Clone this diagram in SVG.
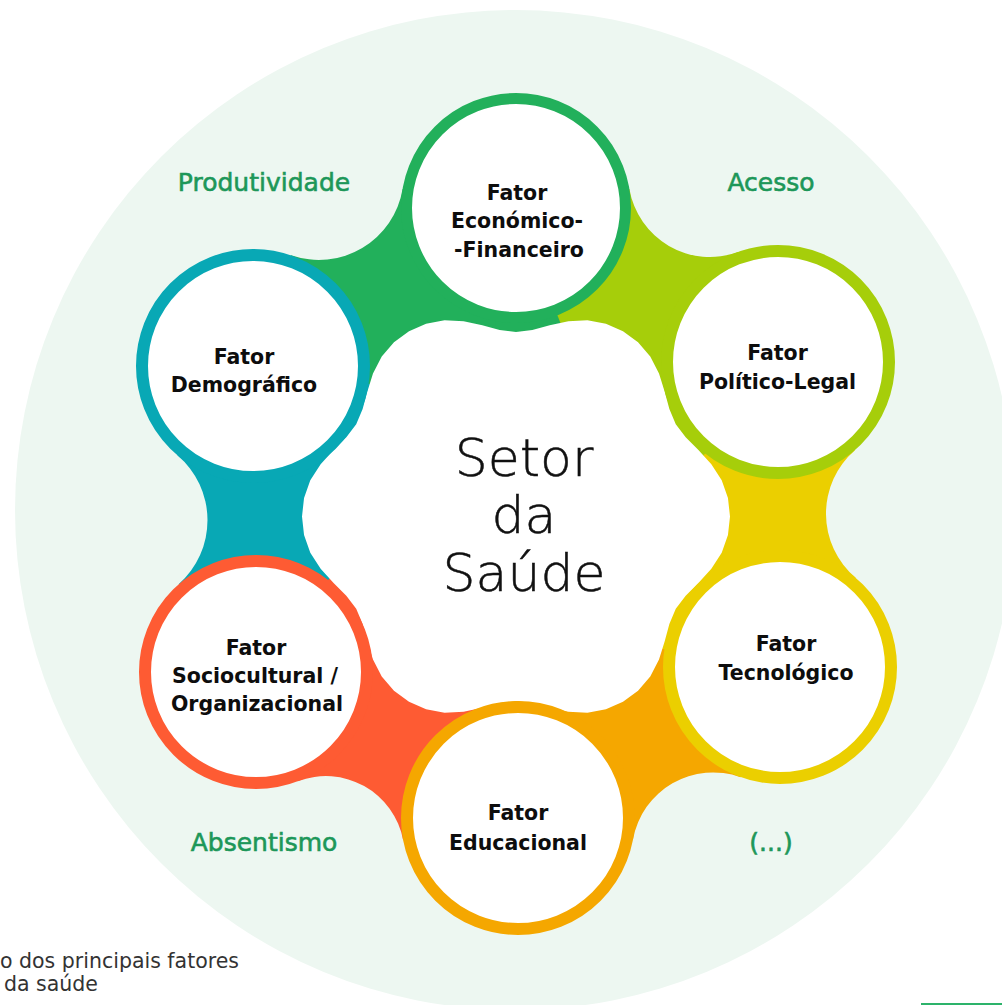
<svg xmlns="http://www.w3.org/2000/svg" width="1002" height="1005" viewBox="0 0 1002 1005">
  <defs>
    <style>
      .lbl{font-family:"DejaVu Sans","Liberation Sans",sans-serif;font-weight:700;font-size:20.5px;fill:#0d0d0d;text-anchor:middle}
      .aspect{font-family:"DejaVu Sans","Liberation Sans",sans-serif;font-size:25px;fill:#1d9759;stroke:#1d9759;stroke-width:0.6;text-anchor:middle}
      .core{font-family:"DejaVu Sans","Liberation Sans",sans-serif;font-weight:200;font-size:52px;fill:#111;stroke:#111;stroke-width:0.5;text-anchor:middle}
      .cap{font-family:"DejaVu Sans","Liberation Sans",sans-serif;font-size:20.5px;fill:#333}
      .node{fill:#fff;stroke-width:12}
      .c-eco{fill:#22b05b;stroke:#22b05b}
      .c-pol{fill:#a6ce0a;stroke:#a6ce0a}
      .c-tec{fill:#ebcf00;stroke:#ebcf00}
      .c-edu{fill:#f5a700;stroke:#f5a700}
      .c-soc{fill:#fe5b33;stroke:#fe5b33}
      .c-dem{fill:#08a8b5;stroke:#08a8b5}
      .fill-only{stroke:none}
    </style>
  </defs>

  <!-- light backdrop disc -->
  <circle cx="515" cy="510" r="500" fill="#edf7f1"/>

  <!-- connectors between neighbouring nodes (each in the colour of its clockwise node) -->
  <g id="connectors" class="fill-only">
    <path class="c-eco fill-only" d="M253,366 L291.1,255.3 A85,85 0 0 0 402.6,189 L516,208 L516,516.5 Z"/>
    <path class="c-pol fill-only" d="M516,208 L629.4,188.9 A81.8,81.8 0 0 0 738,252.1 L778,362 L516,516.5 Z"/>
    <path class="c-tec fill-only" d="M778,362 L854.9,450.2 A84.1,84.1 0 0 0 855.7,577.8 L780,667 L516,516.5 Z"/>
    <path class="c-edu fill-only" d="M780,667 L740.5,777.2 A81.3,81.3 0 0 0 633.1,839.1 L518,818 L516,516.5 Z"/>
    <path class="c-soc fill-only" d="M518,818 L403.1,840 A78.6,78.6 0 0 0 297.8,781.3 L256,672 L516,516.5 Z"/>
    <path class="c-dem fill-only" d="M256,672 L178.6,584.2 A85.2,85.2 0 0 0 177.4,455.3 L253,366 L516,516.5 Z"/>
    <!-- each node keeps its own colour on the inner side, just past its centre line -->
    <path class="c-eco fill-only" d="M516,208 L575.1,361 A165,165 0 0 1 487.3,369.5 Z"/>
    <path class="c-pol fill-only" d="M778,362 L675.3,491.1 A165,165 0 0 1 623.5,419.8 Z"/>
    <path class="c-tec fill-only" d="M780,667 L616.9,642 A165,165 0 0 1 653,561.6 Z"/>
    <path class="c-edu fill-only" d="M518,818 L457.8,664.4 A165,165 0 0 1 545.5,655.3 Z"/>
    <path class="c-soc fill-only" d="M256,672 L357.9,542.2 A165,165 0 0 1 410.1,613.1 Z"/>
    <path class="c-dem fill-only" d="M253,366 L416.1,391.2 A165,165 0 0 1 379.8,471.6 Z"/>
  </g>

  <!-- white core: six-lobed flower -->
  <polygon id="core-shape" fill="#fff" points="730,516.5 727.96,535.04 721.71,552.77 711.36,568.85 698.42,582.9 685.69,595.63 675.78,608.75 669.37,623.89 664.71,641.28 659.01,659.51 650.27,676.51 638.04,690.79 623,701.83 605.92,709.34 587.44,712.78 568.35,711.86 549.71,707.68 532.32,703.02 516,701 499.68,703.02 482.29,707.68 463.65,711.86 444.56,712.78 426.08,709.34 409,701.83 393.96,690.79 381.73,676.51 372.99,659.51 367.29,641.28 362.63,623.89 356.22,608.75 346.31,595.63 333.58,582.9 320.64,568.85 310.29,552.77 304.04,535.04 302,516.5 304.04,497.96 310.29,480.23 320.64,464.15 333.58,450.1 346.31,437.37 356.22,424.25 362.63,409.11 367.29,391.72 372.99,373.49 381.73,356.49 393.96,342.21 409,331.17 426.08,323.66 444.56,320.22 463.65,321.14 482.29,325.32 499.68,329.98 516,332 532.32,329.98 549.71,325.32 568.35,321.14 587.44,320.22 605.92,323.66 623,331.17 638.04,342.21 650.27,356.49 659.01,373.49 664.71,391.72 669.37,409.11 675.78,424.25 685.69,437.37 698.42,450.1 711.36,464.15 721.71,480.23 727.96,497.96"/>

  <!-- nodes -->
  <g id="node-economico">
    <circle class="node c-eco" style="fill:#fff;stroke-width:11" cx="516" cy="208" r="109.5"/>
    <text class="lbl" x="517" y="199.5">Fator</text>
    <text class="lbl" x="517" y="228">Económico-</text>
    <text class="lbl" x="519" y="256.5">-Financeiro</text>
  </g>
  <g id="node-politico">
    <circle class="node c-pol" style="fill:#fff" cx="778" cy="362" r="111"/>
    <text class="lbl" x="777.5" y="360">Fator</text>
    <text class="lbl" x="777.5" y="388.5">Político-Legal</text>
  </g>
  <g id="node-tecnologico">
    <circle class="node c-tec" style="fill:#fff" cx="780" cy="667" r="111"/>
    <text class="lbl" x="786" y="651">Fator</text>
    <text class="lbl" x="786" y="679.5">Tecnológico</text>
  </g>
  <g id="node-educacional">
    <circle class="node c-edu" style="fill:#fff" cx="518" cy="818" r="111"/>
    <text class="lbl" x="518" y="820">Fator</text>
    <text class="lbl" x="518" y="850">Educacional</text>
  </g>
  <g id="node-sociocultural">
    <circle class="node c-soc" style="fill:#fff" cx="256" cy="672" r="111"/>
    <text class="lbl" x="256" y="655">Fator</text>
    <text class="lbl" x="255" y="683">Sociocultural /</text>
    <text class="lbl" x="257" y="711">Organizacional</text>
  </g>
  <g id="node-demografico">
    <circle class="node c-dem" style="fill:#fff" cx="253" cy="366" r="111"/>
    <text class="lbl" x="244" y="363.5">Fator</text>
    <text class="lbl" x="244" y="392">Demográfico</text>
  </g>

  <!-- central label -->
  <g id="node-setor">
    <text class="core" x="524" y="476">Setor</text>
    <text class="core" x="524" y="533">da</text>
    <text class="core" x="524" y="591">Saúde</text>
  </g>

  <!-- outcome labels -->
  <g id="aspects">
    <text class="aspect" x="264" y="191">Produtividade</text>
    <text class="aspect" x="771" y="191">Acesso</text>
    <text class="aspect" x="264" y="851">Absentismo</text>
    <text class="aspect" x="771" y="851">(...)</text>
  </g>

  <!-- caption -->
  <g id="caption">
    <text class="cap" x="0" y="968">o dos principais fatores</text>
    <text class="cap" x="4" y="991">da saúde</text>
  </g>

  <rect x="921" y="1003" width="81" height="2" fill="#2db36b"/>
</svg>
